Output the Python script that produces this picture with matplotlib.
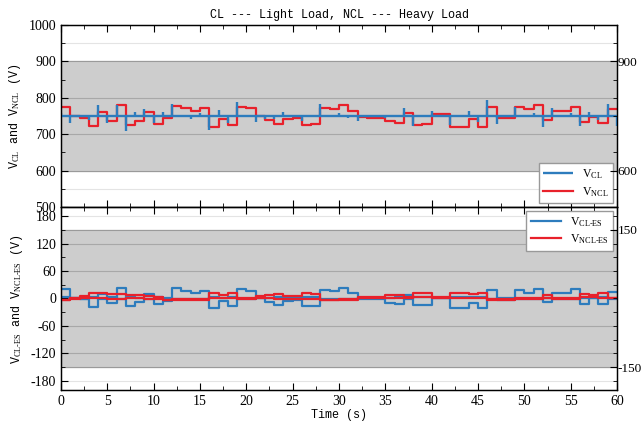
import numpy as np
import matplotlib.pyplot as plt
from matplotlib.ticker import MultipleLocator

plt.rcParams['mathtext.fontset'] = 'custom'
plt.rcParams['mathtext.rm'] = 'Liberation Serif'
plt.rcParams['mathtext.it'] = 'Liberation Serif:italic'
plt.rcParams['axes.unicode_minus'] = False

# ------------------------------------------------------------------
# Dati, un gradino ogni secondo
# ------------------------------------------------------------------
t_edges = np.arange(0, 61)

v_ncl = [776, 750, 744, 723, 762, 735, 781, 726, 737, 760,
         729, 744, 778, 772, 764, 773, 721, 742, 726, 774,
         771, 749, 738, 729, 742, 744, 725, 728, 773, 770,
         779, 765, 747, 745, 745, 737, 732, 758, 726, 729,
         755, 755, 721, 720, 742, 721, 776, 744, 744, 776,
         769, 780, 738, 763, 763, 774, 733, 746, 731, 769]

v_cl_base = 750
# picchi di V_CL ad ogni commutazione (t = 0..60)
v_cl_spike = [758, 731, 746, 738, 781, 730, 780, 709, 761, 769,
              731, 762, 783, 747, 742, 758, 712, 766, 730, 789,
              747, 734, 741, 743, 761, 752, 735, 752, 784, 748,
              757, 745, 735, 749, 750, 744, 746, 772, 723, 752,
              765, 748, 725, 748, 765, 733, 793, 729, 750, 775,
              746, 758, 720, 772, 750, 758, 722, 762, 740, 782, 722]

v_cl_es_a = [20, 2, -2, -18, 10, -9, 23, -17, -7, 9,
             -13, -6, 22, 17, 12, 17, -20, -5, -17, 20,
             17, 1.5, -7, -15, -5, -4, -17, -16, 18, 16,
             22, 13, -1.5, -1.5, -1.5, -9, -13, 7, -15, -15,
             0, 1.5, -20, -20, -9, -20, 18, -4, -4, 18,
             13, 20, -7, 11, 11, 20, -11, 1.5, -13, 15]
v_cl_es_b = [3, 2, -1, 4, -2, 3, -2, 3, 2, -1,
             3, 1, -2, -2, -1, -2, 3, 2, 3, -2,
             -2, 1, 2, 3, 2, 2, 3, 3, -2, -2,
             -2, -1, 1, 1, 1, 2, 3, -1, 3, 3,
             0, 1, 4, 4, 3, 4, -2, 1, 1, -2,
             -1, -2, 2, -1, -1, -2, 2, 1, 3, -2]

v_ncl_es_a = [-4, 0, 6, 11, 11, 9, 9, 7, 7, 5,
              4, -4, -4, -4, -4, -4, 11, 7, 11, -1,
              -1, 5, 7, 9, 6, 6, 11, 9, -4, -4,
              -4, -4, 4, 4, 4, 7, 7, 1, 11, 11,
              4, 4, 11, 11, 9, 11, -4, -4, -4, -2,
              -2, -2, 7, -1, -1, -2, 9, 7, 11, 0]
v_ncl_es_b = [-4, -2, 0, 0, 0, -1, -1, 0, 0, -1,
              -1, -3, -2, -2, -1, -1, 0, 0, 1, 1,
              1, 0, 0, -1, -1, -2, -2, -2, -3, -3,
              -2, -2, 1, 1, 2, 2, 2, 3, 3, 3,
              2, 2, 0, 0, 1, 1, -1, -1, -1, 0,
              0, 0, 2, 2, 2, 2, 3, 3, 2, 2]

band_top = (600, 900)
band_bot = (-150, 150)

blue = "#2d7cbd"
red = "#e8212b"
band_col = "#cdcdcd"
mono = "Liberation Mono"
serif = "Liberation Serif"


def stepv(vals):
    return list(vals) + [vals[-1]]


fig = plt.figure(figsize=(6.44, 4.28), dpi=100)
ax1 = fig.add_axes([0.0947, 0.5164, 0.8634, 0.4252])
ax2 = fig.add_axes([0.0947, 0.0888, 0.8634, 0.4276])

# ------------------------------------------------------------------
# Pannello superiore
# ------------------------------------------------------------------
ax1.axhspan(band_top[0], band_top[1], color=band_col, zorder=0)
ax1.axhline(band_top[0], color="#9a9a9a", lw=0.8, zorder=1)
ax1.axhline(band_top[1], color="#9a9a9a", lw=0.8, zorder=1)
for yv in [700, 800]:
    ax1.axhline(yv, color="#a8a8a8", lw=0.8, zorder=1)
for yv in [550, 950]:
    ax1.axhline(yv, color="#e4e4e4", lw=0.8, zorder=1)

ln_cl = ax1.hlines(v_cl_base, 0, 60, color=blue, lw=1.7, zorder=3, label=r"V$_{\rm CL}$")
ax1.vlines(t_edges, v_cl_base, v_cl_spike, color=blue, lw=1.7, zorder=3)
ln_ncl, = ax1.step(t_edges, stepv(v_ncl), where="post", color=red, lw=1.6,
                   zorder=2, label=r"V$_{\rm NCL}$")

ax1.set_xlim(0, 60)
ax1.set_ylim(500, 1000)
ax1.yaxis.set_major_locator(MultipleLocator(100))
ax1.yaxis.set_minor_locator(MultipleLocator(50))
ax1.xaxis.set_major_locator(MultipleLocator(5))
ax1.xaxis.set_minor_locator(MultipleLocator(2.5))
ax1.tick_params(axis="x", which="both", direction="in", top=True, labelbottom=False)
ax1.tick_params(axis="y", which="both", direction="in", right=False)
ax1.tick_params(which="major", length=5)
ax1.tick_params(which="minor", length=3)
ax1.set_ylabel(r"V$_{\rm CL}$ and V$_{\rm NCL}$ (V)", fontfamily=mono, fontsize=8.5)
ax1.set_title("CL --- Light Load, NCL --- Heavy Load", fontfamily=mono, fontsize=8.5, pad=5)

r1 = ax1.twinx()
r1.set_ylim(500, 1000)
r1.set_yticks(band_top)
r1.yaxis.set_minor_locator(MultipleLocator(50))
r1.tick_params(which="major", direction="in", length=5, pad=0.5)
r1.tick_params(which="minor", direction="in", length=3)

leg1 = ax1.legend(handles=[ln_cl, ln_ncl], loc="lower right", fancybox=False,
                  edgecolor="#999999", framealpha=1, prop={"family": serif, "size": 8.5},
                  borderaxespad=0.3, handlelength=2.5, labelspacing=0.3)
leg1.set_zorder(5)

# ------------------------------------------------------------------
# Pannello inferiore
# ------------------------------------------------------------------
ax2.axhspan(band_bot[0], band_bot[1], color=band_col, zorder=0)
ax2.axhline(band_bot[0], color="#9a9a9a", lw=0.8, zorder=1)
ax2.axhline(band_bot[1], color="#9a9a9a", lw=0.8, zorder=1)
for yv in [-120, -60, 60, 120]:
    ax2.axhline(yv, color="#a8a8a8", lw=0.8, zorder=1)
for yv in [-180, 180]:
    ax2.axhline(yv, color="#e4e4e4", lw=0.8, zorder=1)

ln_cles, = ax2.step(t_edges, stepv(v_cl_es_a), where="post", color=blue, lw=1.6,
                    zorder=2, label=r"V$_{\rm CL\text{-}ES}$")
ax2.step(t_edges, stepv(v_cl_es_b), where="post", color=blue, lw=1.6, zorder=2)
ln_ncles, = ax2.step(t_edges, stepv(v_ncl_es_a), where="post", color=red, lw=1.6,
                     zorder=3, label=r"V$_{\rm NCL\text{-}ES}$")
ax2.step(t_edges, stepv(v_ncl_es_b), where="post", color=red, lw=1.6, zorder=3)

ax2.set_xlim(0, 60)
ax2.set_ylim(-200, 200)
ax2.set_yticks([-180, -120, -60, 0, 60, 120, 180])
ax2.yaxis.set_minor_locator(MultipleLocator(30))
ax2.xaxis.set_major_locator(MultipleLocator(5))
ax2.xaxis.set_minor_locator(MultipleLocator(2.5))
ax2.tick_params(axis="x", which="both", direction="in", top=True)
ax2.tick_params(axis="y", which="both", direction="in")
ax2.tick_params(which="major", length=5)
ax2.tick_params(which="minor", length=3)
ax2.set_xlabel("Time (s)", fontfamily=mono, fontsize=8.5, labelpad=1)
ax2.set_ylabel(r"V$_{\rm CL\text{-}ES}$ and V$_{\rm NCL\text{-}ES}$ (V)",
               fontfamily=mono, fontsize=8.5)

r2 = ax2.twinx()
r2.set_ylim(-200, 200)
r2.set_yticks(band_bot)
r2.yaxis.set_minor_locator(MultipleLocator(30))
r2.tick_params(which="major", direction="in", length=5, pad=0.5)
r2.tick_params(which="minor", direction="in", length=3)

leg2 = ax2.legend(handles=[ln_cles, ln_ncles], loc="upper right", fancybox=False,
                  edgecolor="#999999", framealpha=1, prop={"family": serif, "size": 8.5},
                  borderaxespad=0.3, handlelength=2.5, labelspacing=0.3)

for a in [ax1, ax2]:
    for lab in a.get_xticklabels() + a.get_yticklabels():
        lab.set_fontfamily(serif)
        lab.set_fontsize(10)
for a in [r1, r2]:
    for lab in a.get_yticklabels():
        lab.set_fontfamily(serif)
        lab.set_fontsize(9.5)
for a in [ax1, ax2, r1, r2]:
    for s in a.spines.values():
        s.set_linewidth(0.9)

fig.savefig("out.png", dpi=100)
